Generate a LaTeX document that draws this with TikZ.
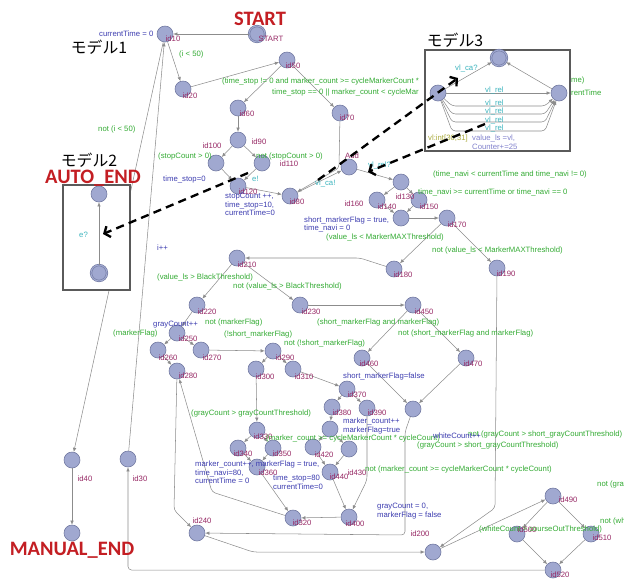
\documentclass[tikz,border=0pt]{standalone}
\usepackage{fontspec}
\setmainfont{Liberation Sans}
\newfontfamily\cjkfont{Noto Sans CJK JP}
\newfontfamily\titlefont{Carlito}
\usepackage{xcolor}
\usepackage{tikz}
\usetikzlibrary{arrows.meta}
\definecolor{locfill}{RGB}{160,168,208}
\definecolor{locline}{RGB}{112,120,160}
\definecolor{edgegray}{RGB}{140,140,140}
\definecolor{idred}{RGB}{150,40,100}
\definecolor{guardgreen}{RGB}{50,170,50}
\definecolor{updblue}{RGB}{60,60,175}
\definecolor{synccyan}{RGB}{60,180,190}
\definecolor{selolive}{RGB}{170,170,60}
\definecolor{lavender}{RGB}{130,130,205}
\definecolor{titlered}{RGB}{195,30,35}
\definecolor{boxgray}{RGB}{90,90,90}
\newcommand{\lblfont}{\fontsize{6.6}{7.4}\selectfont}
\tikzstyle{loc} = [circle, draw=locline, fill=locfill, minimum size=0.48cm, inner sep=0pt, line width=0.5pt]
\tikzstyle{initloc} = [loc, double=locfill, double distance=0.9pt]
\tikzstyle{arrow} = [draw=edgegray, line width=0.45pt, rounded corners=3pt, -{Latex[length=3.5pt,width=3pt]}]
\tikzstyle{idtxt} = [text=idred, font=\lblfont, inner sep=0pt]
\tikzstyle{guard} = [text=guardgreen, font=\lblfont, anchor=west, inner sep=0pt]
\tikzstyle{update} = [text=updblue, font=\lblfont, anchor=west, inner sep=0pt, align=left]
\tikzstyle{sync} = [text=synccyan, font=\lblfont, anchor=west, inner sep=0pt]
\tikzstyle{model} = [draw=boxgray, line width=1.1pt, fill=white]
\tikzstyle{title} = [text=titlered, font=\titlefont\bfseries\fontsize{17.5}{18}\selectfont, inner sep=0pt]
\tikzstyle{modelname} = [font=\cjkfont\fontsize{13.5}{14}\selectfont, inner sep=0pt]
\tikzstyle{link} = [line width=2pt, dash pattern=on 7pt off 4.5pt, -{Straight Barb[length=4pt,width=10pt]}]

\begin{document}
\begin{tikzpicture}[x=0.03cm, y=-0.03cm]
    \useasboundingbox (0,0) rectangle (624,579);
    % locations of the main model
    \node[initloc] (start) at (257,34) {};
    \node[loc] (add) at (349,167) {};
    \node[loc] (mend) at (72,533) {};
    \foreach \n/\x/\y in {id10/165/34, id20/183/89, id50/287/60, id60/238/108, id90/238/140,
        id100/216/163, id110/262/163, id120/238/186, id70/340/113, id80/290/196,
        id130/401/182, id140/377/200, id150/419/200, id160/401/218, id170/447/218,
        id180/394/269, id190/497/268, id210/237/258, id220/197/305, id230/300/305,
        id250/177/333, id260/158/350, id270/201/350, id280/177/371, id290/273/351,
        id300/256/369, id310/293/369, id330/257/430, id340/238/448, id350/273/448,
        id360/257/467, id320/293/518, id370/347/389, id380/332/407, id390/367/408,
        id410/330/429, id420/313/447, id430/349/449, id440/330/472, id400/349/517,
        id450/413/305, id460/362/358, id470/466/358, id480/413/409, id240/197/533,
        id200/433/552, id490/553/496, id500/517/534, id510/591/534, id520/553/570,
        id30/128/459, id40/72/460}
        \node[loc] (\n) at (\x,\y) {};

    % transitions
    \foreach \a/\b in {start/id10, id10/id20, id10/id40, id30/id10, id40/mend, id20/id50,
        id50/id60, id50/id70, id60/id90, id90/id100, id90/id110, id100/id120, id110/id120,
        id120/id80, id80/add, add/id130, id130/id140, id130/id150, id140/id160, id150/id160,
        id160/id170, id170/id180, id170/id190, id210/id220, id210/id230, id220/id250,
        id250/id260, id250/id270, id260/id280, id270/id290, id290/id300, id290/id310,
        id300/id330, id310/id370, id330/id340, id330/id350, id340/id360, id350/id360,
        id360/id320, id370/id380, id370/id390, id380/id410, id410/id420, id410/id430,
        id420/id440, id430/id440, id440/id400, id400/id320, id230/id450, id450/id460,
        id450/id470, id460/id480, id470/id480, id200/id490, id490/id500, id490/id510,
        id500/id520, id510/id520}
        \draw[arrow] (\a) -- (\b);
    \draw[arrow] (id70) -- (339,168) -- (id80);
    \draw[arrow] (id180) -- (360,258) -- (id210);
    \draw[arrow] (id190) -- (495,508) -- (id200);
    \draw[arrow] (id390) -- (367,480) -- (id400);
    \draw[arrow] (id320) -- (212,492) -- (id280);
    \draw[arrow] (id280) -- (174,510) -- (id240);
    \draw[arrow] (id480) -- (405,432) -- (405,535) -- (id240);
    \draw[arrow] (id240) -- (253,552) -- (id200);
    \draw[arrow] (id520) -- (128,570) -- (id30);

    % location names
    \node[idtxt] at (271,39) {START};
    \node[idtxt] at (352,156) {Add};
    \foreach \n/\x/\y in {id10/173/39, id20/190/96, id50/293/66, id60/247/114, id90/259/142,
        id100/212/146, id110/289/164, id120/248/192, id70/347/118, id80/297/202,
        id130/405/197, id140/387/207, id150/429/207, id160/354/204, id170/457/225,
        id180/403/275, id190/506/274, id210/247/265, id220/207/312, id230/311/312,
        id250/188/339, id260/168/358, id270/212/358, id280/188/376, id290/285/358,
        id300/265/377, id310/304/377, id450/424/312, id460/369/364, id470/473/364,
        id370/357/395, id380/342/413, id390/377/413, id420/324/455, id430/357/473,
        id440/339/477, id400/355/524, id330/263/437, id340/243/454, id350/282/454,
        id360/268/473, id320/302/523, id240/202/521, id30/140/479, id40/85/479,
        id200/420/534, id490/568/500, id500/527/530, id510/602/538, id520/560/575}
        \node[idtxt] at (\x,\y) {\n};

    % guards
    \node[guard] at (179,54) {(i < 50)};
    \node[guard] at (98,129) {not (i < 50)};
    \node[guard] at (222,81) {(time\_stop != 0 and marker\_count >= cycleMarkerCount *};
    \node[guard] at (272,93) {time\_stop == 0 || marker\_count < cycleMar};
    \node[guard] at (158,156) {(stopCount > 0)};
    \node[guard] at (256,156) {not (stopCount > 0)};
    \node[guard] at (433,174) {(time\_navi < currentTime and time\_navi != 0)};
    \node[guard] at (418,192) {time\_navi >= currentTime or time\_navi == 0};
    \node[guard] at (326,237) {(value\_ls < MarkerMAXThreshold)};
    \node[guard] at (432,250) {not (value\_ls < MarkerMAXThreshold)};
    \node[guard] at (157,277) {(value\_ls > BlackThreshold)};
    \node[guard] at (233,286) {not (value\_ls > BlackThreshold)};
    \node[guard] at (205,322) {not (markerFlag)};
    \node[guard] at (113,333) {(markerFlag)};
    \node[guard] at (224,334) {(!short\_markerFlag)};
    \node[guard] at (284,343) {not (!short\_markerFlag)};
    \node[guard] at (317,322) {(short\_markerFlag and markerFlag)};
    \node[guard] at (398,333) {not (short\_markerFlag and markerFlag)};
    \node[guard] at (191,413) {(grayCount > grayCountThreshold)};
    \node[guard] at (266,438) {(marker\_count >= cycleMarkerCount * cycleCount)};
    \node[guard] at (365,469) {not (marker\_count >= cycleMarkerCount * cycleCount)};
    \node[guard] at (468,434) {not (grayCount > short\_grayCountThreshold)};
    \node[guard] at (417,445) {(grayCount > short\_grayCountThreshold)};
    \node[guard] at (597,484) {not (grayCount > short\_grayCountThreshold)};
    \node[guard] at (600,521) {not (whiteCount > courseOutThreshold)};
    \node[guard] at (479,529) {(whiteCount > courseOutThreshold)};

    % updates and synchronisations
    \node[update] at (99,34) {currentTime = 0};
    \node[update] at (163,179) {time\_stop=0};
    \node[update] at (225,204.5) {stopCount ++,\\time\_stop=10,\\currentTime=0};
    \node[update] at (304,224.5) {short\_markerFlag = true,\\time\_navi = 0};
    \node[update] at (157,248) {i++};
    \node[update] at (153,325) {grayCount++};
    \node[update] at (343,376) {short\_markerFlag=false};
    \node[update] at (343,426) {marker\_count++\\markerFlag=true};
    \node[update] at (195,472.5) {marker\_count++, markerFlag = true,\\time\_navi=80,\\currentTime = 0};
    \node[update] at (273,482.5) {time\_stop=80\\currentTime=0};
    \node[update] at (377,511) {grayCount = 0,\\markerFlag = false};
    \node[update] at (433,436) {whiteCount++};
    \node[sync] at (252,179) {e!};
    \node[sync] at (315,183) {vl\_ca!};
    \node[sync] at (368,165) {vl\_rel?};

    % model 2
    \draw[model] (63,185) rectangle (130,290);
    \node[loc] (m2top) at (99,194) {};
    \node[initloc] (m2init) at (99,273) {};
    \draw[arrow] (m2init) -- (m2top);
    \node[sync] at (79,235) {e?};

    % model 3
    \draw[model] (425,50) rectangle (570,151);
    \node[initloc] (m3top) at (499,58) {};
    \node[loc] (m3left) at (438,93) {};
    \node[loc] (m3right) at (559,93) {};
    \draw[arrow] (m3left) -- (m3top);
    \draw[arrow] (m3right) -- (m3top);
    \draw[arrow] (m3left) -- (m3right);
    \foreach \yy in {106,114,122,131}
        \draw[arrow] (m3left) -- (452,\yy) -- (545,\yy) -- (m3right);
    \node[sync] at (455,68) {vl\_ca?};
    \foreach \yy in {90,103,111,120,128}
        \node[sync] at (485,\yy) {vl\_rel};
    \node[text=selolive, font=\lblfont, anchor=west, inner sep=0pt] at (428,138) {vl:int[30,31]};
    \node[text=lavender, font=\lblfont, anchor=west, inner sep=0pt, align=left] at (472,142) {value\_ls =vl,\\Counter+=25};
    \node[guard] at (571,80) {me)};
    \node[guard] at (571,93) {rentTime};

    % titles
    \node[title] at (260,19) {START};
    \node[title] at (93,178) {AUTO\_END};
    \node[title] at (72,550) {MANUAL\_END};
    \node[modelname] at (99,47) {モデル1};
    \node[modelname] at (89,160) {モデル2};
    \node[modelname] at (455,40) {モデル3};

    % channel links
    \coordinate (esend) at (248,173);
    \coordinate (erecv) at (103,234);
    \coordinate (casend) at (318,180);
    \coordinate (carecv) at (458,78);
    \coordinate (relsend) at (485,124);
    \coordinate (relrecv) at (368,172);
    \draw[link] (esend) -- (erecv);
    \draw[link] (casend) -- (carecv);
    \draw[link] (relsend) -- (relrecv);
\end{tikzpicture}
\end{document}
